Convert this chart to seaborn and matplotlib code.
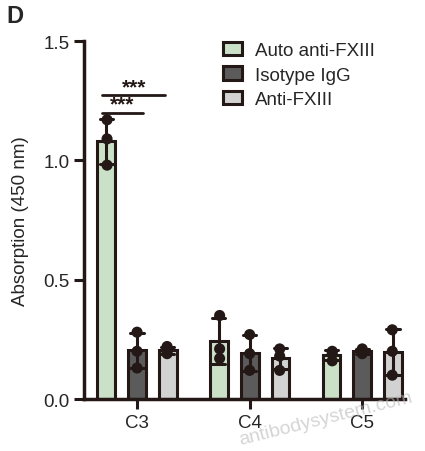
import numpy as np
import pandas as pd
import matplotlib
matplotlib.use("Agg")
import matplotlib.pyplot as plt
import seaborn as sns

# values (3 replicates per bar)
groups = ["C3", "C4", "C5"]
series = ["Auto anti-FXIII", "Isotype IgG", "Anti-FXIII"]
auto_vals = [[1.17, 1.09, 0.98], [0.35, 0.21, 0.17], [0.20, 0.19, 0.16]]
isotype_vals = [[0.28, 0.20, 0.13], [0.27, 0.19, 0.12], [0.21, 0.20, 0.19]]
anti_vals = [[0.22, 0.20, 0.19], [0.21, 0.18, 0.12], [0.29, 0.20, 0.10]]
yticks = [0.0, 0.5, 1.0, 1.5]

colors = ["#c6e5c4", "#5b5b5b", "#d2d2d2"]
edge = "#231815"

rows = []
for name, vals in zip(series, [auto_vals, isotype_vals, anti_vals]):
    for g, reps in zip(groups, vals):
        for v in reps:
            rows.append({"group": g, "series": name, "value": v})
df = pd.DataFrame(rows)

sns.set_style("ticks")
plt.rcParams["font.family"] = ["Liberation Sans", "DejaVu Sans"]

fig = plt.figure(figsize=(4.25, 4.52), dpi=100)
ax = fig.add_axes([0.198, 0.115, 0.755, 0.792])

sns.barplot(data=df, x="group", y="value", hue="series", order=groups, hue_order=series,
            palette=colors, errorbar="sd", capsize=0.35, width=0.82, gap=0.42,
            linewidth=2.2, edgecolor=edge, err_kws={"color": edge, "linewidth": 2.2}, ax=ax)
sns.stripplot(data=df, x="group", y="value", hue="series", order=groups, hue_order=series,
              dodge=True, jitter=False, palette=[edge] * 3, size=8,
              legend=False, ax=ax)

# significance brackets on C3
for x0, x1, y in [(-0.31, 0.25, 1.275), (-0.31, 0.05, 1.2)]:
    ax.plot([x0, x1], [y, y], color=edge, lw=2)
    ax.text((x0 + x1) / 2, y - 0.005, "***", ha="center", va="bottom", fontsize=15,
            fontweight="bold", color=edge)

ax.set_xlim(-0.47, 2.38)
ax.set_ylim(0, 1.5)
ax.set_yticks(yticks)
ax.set_yticklabels([f"{t:.1f}" for t in yticks])
ax.set_xlabel("")
ax.set_ylabel("Absorption (450 nm)", fontsize=13.5, labelpad=10)
ax.tick_params(axis="both", labelsize=13.5, width=2.2, length=7, color=edge)
for s in ["left", "bottom"]:
    ax.spines[s].set_linewidth(2.5)
    ax.spines[s].set_color(edge)
sns.despine(ax=ax)

leg = ax.legend(loc="upper left", bbox_to_anchor=(0.38, 1.045), frameon=False, fontsize=13.5,
                handlelength=1.0, handleheight=0.7, handletextpad=0.7, labelspacing=0.4)

fig.text(0.015, 0.99, "D", fontsize=17, fontweight="bold", va="top")
fig.text(0.765, 0.072, "antibodysystem.com", fontsize=14, color="#b9b9b9", alpha=0.6,
         rotation=14, ha="center", va="center")

fig.savefig("out.png", dpi=100)
